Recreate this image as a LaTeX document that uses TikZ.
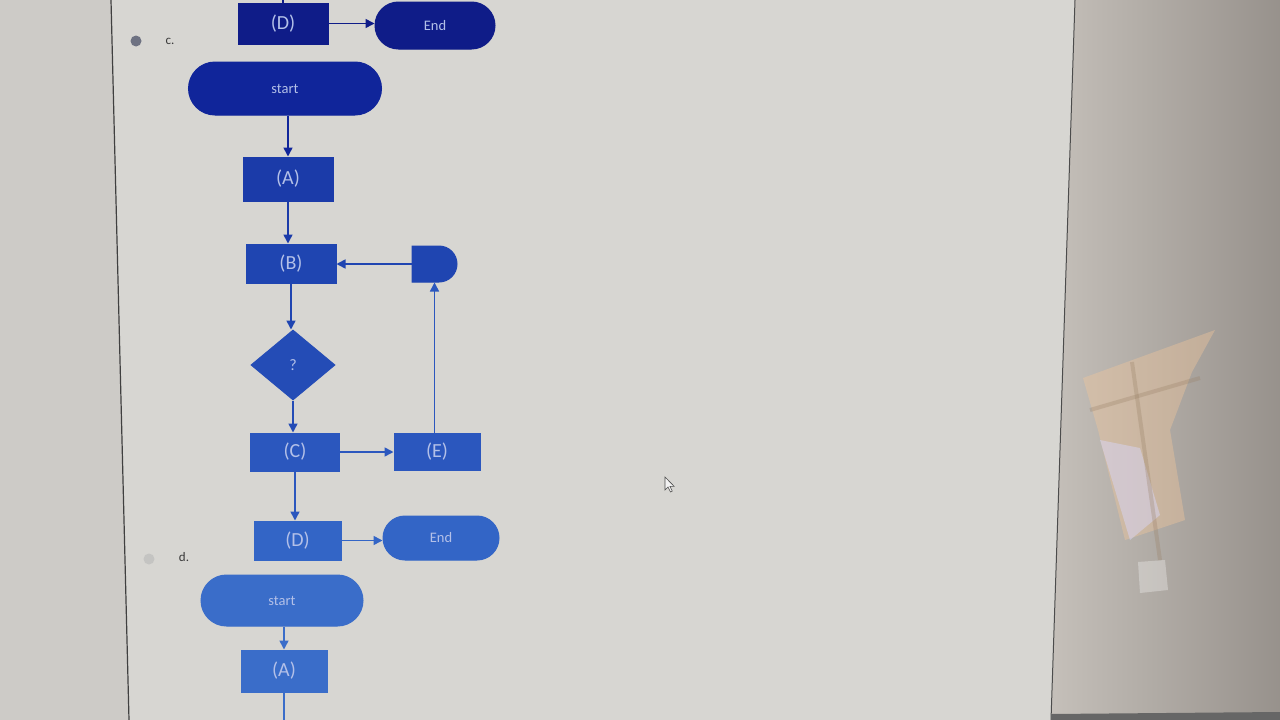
\documentclass[tikz,border=0pt]{standalone}
\usepackage{fontspec}
\setmainfont{Carlito}
\usetikzlibrary{shapes.misc,shapes.geometric,arrows.meta}
\definecolor{pagebg}{HTML}{D7D6D2}
\definecolor{marginbg}{HTML}{CDCBC7}
\definecolor{sidebg}{HTML}{BDB6AF}
\definecolor{ink}{HTML}{3A3A3A}
\definecolor{txt}{HTML}{B3C0E8}
\definecolor{radioc}{HTML}{6E7282}
\definecolor{radiod}{HTML}{C4C4C2}
\definecolor{nA}{HTML}{0F1C88}
\definecolor{nB}{HTML}{10259A}
\definecolor{nC}{HTML}{1B3BA9}
\definecolor{nD}{HTML}{1F45B1}
\definecolor{nE}{HTML}{244CB6}
\definecolor{nF}{HTML}{2B57BE}
\definecolor{nG}{HTML}{3365C6}
\definecolor{nH}{HTML}{3A6DC9}
\tikzset{
  box/.style={draw=#1,fill=#1,line width=1pt,rectangle,text=txt,font=\fontsize{20}{20}\selectfont,inner sep=0pt},
  term/.style={draw=#1,fill=#1,line width=1pt,rounded rectangle,text=txt,font=\fontsize{14.5}{14.5}\selectfont,inner sep=0pt},
  delaybox/.style={draw=#1,fill=#1,line width=1pt,rounded rectangle,rounded rectangle west arc=none,inner sep=0pt},
  decide/.style={draw=#1,fill=#1,line width=1pt,diamond,text=txt,font=\fontsize{16}{16}\selectfont,inner sep=0pt},
  flow/.style={draw=#1,line width=1.6pt,-{Triangle[length=9pt,width=9pt]}},
  plain/.style={draw=#1,line width=1.6pt},
  radio/.style={circle,fill=#1,minimum size=11pt,inner sep=0pt},
  opt/.style={text=ink,font=\fontsize{13}{13}\selectfont,inner sep=0pt}
}
\begin{document}
\begin{tikzpicture}[x=1pt,y=-1pt]
\useasboundingbox (0,0) rectangle (1280,720);
% screen background: page, left margin, right side panel
\fill[pagebg] (0,0) rectangle (1280,720);
\fill[marginbg] (0,0) -- (111,0) -- (129,720) -- (0,720) -- cycle;
\shade[left color=sidebg!70!pagebg,right color=sidebg!80!black] (1075,0) -- (1280,0) -- (1280,720) -- (1051,720) -- cycle;
\draw[black!75,line width=1.2pt] (111,0) -- (129,720);
\draw[black!70,line width=1pt] (1075,0) -- (1051,720);
\fill[black!60] (1051,714) -- (1280,712) -- (1280,720) -- (1051,720) -- cycle;
% light from a window falling on the right panel
\fill[orange!50!brown!45!white,opacity=0.4] (1083,378) -- (1215,330) -- (1192,372) -- (1170,430) -- (1185,520) -- (1125,540) -- (1098,430) -- cycle;
\fill[white!85!blue,opacity=0.45] (1100,440) -- (1140,448) -- (1160,515) -- (1130,540) -- cycle;
\fill[white,opacity=0.3] (1138,562) -- (1165,560) -- (1168,590) -- (1140,593) -- cycle;
\draw[gray!60!brown,line width=4pt,opacity=0.3] (1090,410) -- (1200,378);
\draw[gray!60!brown,line width=4pt,opacity=0.3] (1132,362) -- (1160,560);

% option c
\node[box=nA,minimum width=90pt,minimum height=41pt] (d1) at (283,23.5) {(D)};
\node[term=nA,minimum width=120pt,minimum height=47pt] (end1) at (435,25.5) {End};
\coordinate (d1in) at (283,0);
\node[radio=radioc] (rc) at (136,41) {};
\node[opt] (lc) at (170,41) {c.};
\node[term=nB,minimum width=193pt,minimum height=53pt] (s1) at (285,88.5) {start};
\node[box=nC,minimum width=90pt,minimum height=44pt] (a1) at (288,179) {(A)};
\node[box=nD,minimum width=90pt,minimum height=39pt] (b1) at (291,263.5) {(B)};
\node[delaybox=nD,minimum width=45pt,minimum height=36pt] (m1) at (434.5,264) {};
\node[decide=nE,minimum width=84pt,minimum height=70pt,aspect=1.2] (q1) at (293,365) {?};
\node[box=nF,minimum width=89pt,minimum height=38pt] (c1) at (295,452) {(C)};
\node[box=nF,minimum width=86pt,minimum height=37pt] (e1) at (437,451.5) {(E)};
\node[box=nG,minimum width=87pt,minimum height=39pt] (d2) at (297.5,540.5) {(D)};
\node[term=nG,minimum width=116pt,minimum height=44pt] (end2) at (441,538) {End};

\draw[plain=nA] (d1in) -- (d1.north);
\draw[flow=nA] (d1.east) -- (d1.east -| end1.west);
\draw[flow=nB] (s1.south -| a1.north) -- (a1.north);
\draw[flow=nC] (a1.south) -- (a1.south |- b1.north);
\draw[flow=nD] (m1.west) -- (m1.west -| b1.east);
\draw[flow=nD] (b1.south) -- (b1.south |- q1.north);
\draw[flow=nE] (q1.south) -- (q1.south |- c1.north);
\draw[flow=nF] (c1.east) -- (c1.east -| e1.west);
\draw[flow=nF] (e1.north -| m1.south) -- (m1.south);
\draw[flow=nF] (c1.south) -- (c1.south |- d2.north);
\draw[flow=nG] (d2.east) -- (d2.east -| end2.west);

% option d
\node[radio=radiod] (rd) at (149,559) {};
\node[opt] (ld) at (184,557) {d.};
\node[term=nH,minimum width=162pt,minimum height=51pt] (s2) at (282,600.5) {start};
\node[box=nH,minimum width=86pt,minimum height=42pt] (a2) at (284,671) {(A)};
\coordinate (a2out) at (284,720);
\draw[flow=nH] (s2.south -| a2.north) -- (a2.north);
\draw[plain=nH] (a2.south) -- (a2out);

% mouse pointer
\coordinate (cur) at (665,477);
\draw[black!70,fill=white!90!gray,line width=0.6pt] (cur) -- ++(0,13) -- ++(3,-3) -- ++(2.5,5) -- ++(1.8,-0.9) -- ++(-2.4,-4.8) -- ++(4.2,0) -- cycle;
\end{tikzpicture}
\end{document}
